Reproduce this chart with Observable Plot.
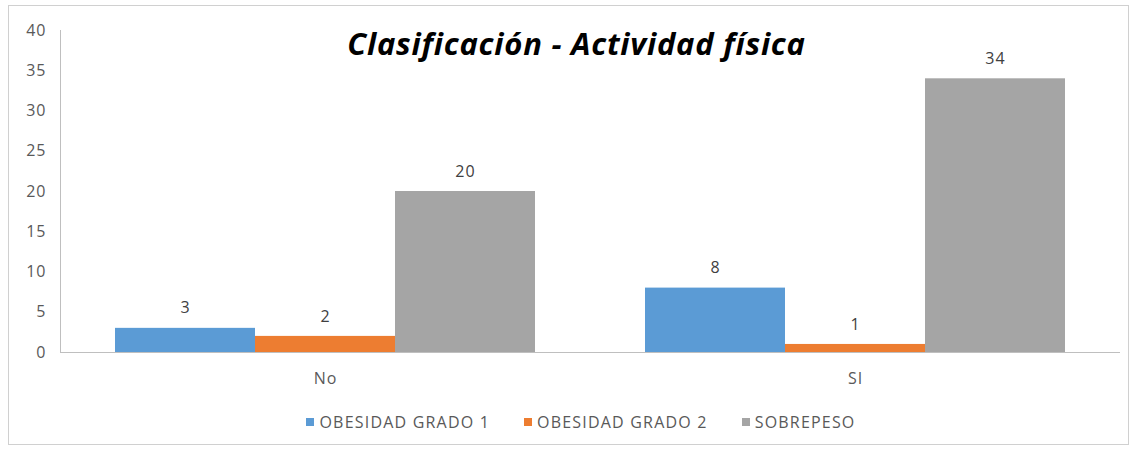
<!DOCTYPE html>
<html>
<head>
<meta charset="utf-8">
<script src="https://cdn.jsdelivr.net/npm/d3@7"></script>
<script src="https://cdn.jsdelivr.net/npm/@observablehq/plot@0.6"></script>
<style>
  html, body { margin: 0; padding: 0; background: #fff; }
  #wrap { position: relative; width: 1139px; height: 451px; overflow: hidden; font-family: "Open Sans", sans-serif; }
  #border { position: absolute; left: 8px; top: 5px; width: 1121px; height: 440px; border: 1px solid #d0d0d0; box-sizing: border-box; }
  #title { position: absolute; left: 0; width: 1153px; top: 22px; text-align: center; font-size: 31px; letter-spacing: 0.75px; font-weight: bold; font-style: italic; color: #000; }
  #legend { position: absolute; left: 0; width: 1162px; top: 411px; display: flex; justify-content: center; gap: 34px; font-size: 16px; letter-spacing: 1.2px; color: #595959; }
  #legend .item { display: flex; align-items: center; }
  #legend .sw { width: 8px; height: 8px; margin-right: 5px; }
  #chart { position: absolute; left: 0; top: 0; }
</style>
</head>
<body>
<div id="wrap">
  <div id="border"></div>
  <div id="chart"></div>
  <div id="title">Clasificación - Actividad física</div>
  <div id="legend"></div>
</div>
<script>
const categories = ["No", "SI"];
const series = ["OBESIDAD GRADO 1", "OBESIDAD GRADO 2", "SOBREPESO"];
const valuesNo = [3, 2, 20];
const valuesSi = [8, 1, 34];
const colors = ["#5B9BD5", "#ED7D31", "#A5A5A5"];
const yTicks = [0, 5, 10, 15, 20, 25, 30, 35, 40];

const data = [];
series.forEach((s, i) => data.push({cat: "No", serie: s, value: valuesNo[i]}));
series.forEach((s, i) => data.push({cat: "SI", serie: s, value: valuesSi[i]}));

const chart = Plot.plot({
  width: 1139,
  height: 451,
  marginLeft: 60,
  marginRight: 19,
  marginTop: 30,
  marginBottom: 99,
  style: {fontFamily: "Open Sans, sans-serif", fontSize: "16px", color: "#595959", background: "transparent", letterSpacing: "1px"},
  fx: {domain: categories, paddingInner: 0, paddingOuter: 0, label: null, axis: null},
  x: {domain: series, paddingInner: 0, paddingOuter: 0.38, axis: null},
  y: {domain: [0, 40], label: null, axis: null},
  color: {domain: series, range: colors},
  marks: [
    Plot.barY(data, {fx: "cat", x: "serie", y: "value", fill: "serie"}),
    Plot.text(data, {fx: "cat", x: "serie", y: "value", text: d => String(d.value), dy: -20, fill: "#404040", fontSize: 16}),
    Plot.ruleY([0], {stroke: "#bfbfbf", strokeWidth: 1.2}),
    Plot.axisY({ticks: yTicks, tickSize: 0, tickPadding: 14, label: null, fill: "#595959", fontSize: 16}),
    Plot.axisFx({anchor: "bottom", tickSize: 0, tickPadding: 20, label: null, fill: "#595959", fontSize: 16}),
    Plot.frame({anchor: "left", stroke: "#bfbfbf", facetAnchor: "left"})
  ]
});
document.getElementById("chart").appendChild(chart);

const legend = document.getElementById("legend");
series.forEach((s, i) => {
  const item = document.createElement("div");
  item.className = "item";
  const sw = document.createElement("div");
  sw.className = "sw";
  sw.style.background = colors[i];
  const t = document.createElement("span");
  t.textContent = s;
  item.appendChild(sw);
  item.appendChild(t);
  legend.appendChild(item);
});
</script>
</body>
</html>
